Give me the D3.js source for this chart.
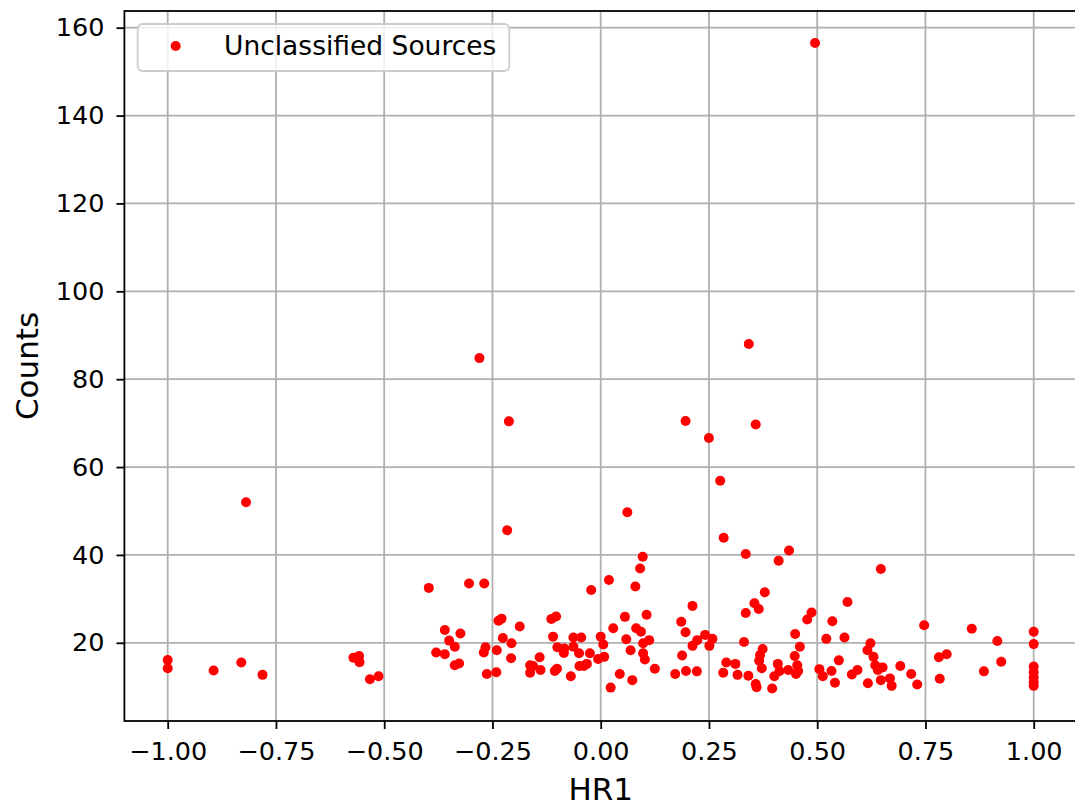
<!DOCTYPE html>
<html>
<head>
<meta charset="utf-8">
<script src="https://cdn.jsdelivr.net/npm/d3@7/dist/d3.min.js"></script>
<style>
  html, body { margin: 0; padding: 0; background: #fff; overflow: hidden; }
  svg { display: block; font-family: "DejaVu Sans", sans-serif; }
</style>
</head>
<body>
<svg id="chart" width="1075" height="806"></svg>
<script>
// Hardness ratio HR1 for each unclassified source
const hr1 = [
  -1.0, -1.0, -0.894, -0.830, -0.781, -0.819,
  -0.571, -0.558, -0.557, -0.533, -0.513,
  -0.397, -0.304, -0.269, -0.360, -0.324, -0.350, -0.337, -0.380, -0.360,
  -0.337, -0.327, -0.266, -0.270, -0.240, -0.263, -0.241, -0.236, -0.229, -0.226,
  -0.206, -0.207, -0.187, -0.114, -0.103, -0.110, -0.100, -0.084, -0.085, -0.063,
  -0.045, -0.063, -0.050, -0.025, 0.000, 0.006, -0.006, 0.008, -0.049, -0.039,
  -0.032, -0.141, -0.163, -0.156, -0.163, -0.139, -0.106, -0.101, -0.069, -0.022,
  0.019, 0.023, 0.044, 0.073, 0.056, 0.029, 0.059, 0.069, 0.082, 0.093,
  0.097, 0.091, 0.080, 0.098, 0.112, 0.098, 0.102, 0.106, 0.125,
  -0.280, -0.212, 0.196, 0.250, 0.358, 0.276, 0.0615, -0.216, 0.284, 0.342, 0.495, 0.647,
  0.172, 0.197, 0.222, 0.188, 0.186, 0.196, 0.212, 0.212, 0.223, 0.241,
  0.258, 0.251, 0.335, 0.411, 0.435, 0.379, 0.355, 0.365, 0.335, 0.331,
  0.290, 0.311, 0.283, 0.316, 0.341, 0.358, 0.360, 0.396, 0.374, 0.368,
  0.366, 0.372, 0.409, 0.413, 0.401, 0.433, 0.449, 0.460, 0.448, 0.454,
  0.456, 0.451, 0.477, 0.487, 0.535, 0.570, 0.521, 0.563, 0.550, 0.505,
  0.513, 0.533, 0.541, 0.580, 0.593,
  0.623, 0.616, 0.630, 0.634, 0.640, 0.651, 0.617, 0.647, 0.668, 0.672,
  0.692, 0.717, 0.731, 0.747, 0.781, 0.799, 0.783, 0.857, 0.916, 0.925,
  0.885, 1.0, 1.0, 1.0, 1.0, 1.0, 1.0, 1.0
];

// Source counts, same order as hr1
const counts = [
  16.1, 14.2, 13.7, 15.5, 12.7, 52.0,
  16.6, 17.0, 15.6, 11.7, 12.4,
  32.5, 33.5, 33.5, 22.9, 22.1, 20.5, 19.1, 17.8, 17.4,
  14.9, 15.3, 19.0, 17.8, 18.3, 12.9, 13.3, 25.0, 25.5, 21.1,
  19.9, 16.5, 23.7, 25.4, 26.0, 21.4, 19.0, 18.7, 17.7, 21.2,
  21.2, 19.1, 17.6, 17.6, 21.4, 19.6, 16.3, 16.8, 14.7, 14.7,
  15.2, 16.7, 14.9, 14.7, 13.2, 13.8, 13.6, 14.1, 12.4, 32.0,
  34.3, 9.8, 12.9, 11.5, 25.9, 23.3, 20.8, 18.3, 23.3, 22.5,
  39.6, 36.9, 32.8, 19.9, 20.6, 17.6, 16.2, 26.4, 14.1,
  84.8, 70.4, 70.5, 66.6, 69.7, 56.9, 49.7, 45.6, 43.9, 88.0, 156.5, 36.8,
  12.9, 13.6, 13.5, 17.1, 24.8, 22.4, 28.4, 19.3, 20.6, 21.8,
  20.9, 19.3, 40.2, 38.7, 41.0, 31.5, 29.0, 27.7, 26.8, 20.2,
  15.5, 15.2, 13.2, 12.7, 12.5, 10.6, 9.9, 9.6, 18.6, 17.2,
  15.9, 14.2, 15.2, 13.6, 12.4, 13.8, 22.0, 19.1, 17.0, 14.9,
  13.6, 12.9, 25.3, 26.9, 24.9, 29.3, 20.9, 21.2, 16.0, 14.0,
  12.4, 13.6, 10.9, 12.8, 13.8,
  19.9, 18.3, 16.8, 14.9, 13.8, 14.4, 10.8, 11.5, 11.9, 10.2,
  14.7, 12.9, 10.5, 24.0, 16.7, 17.4, 11.8, 23.2, 20.4, 15.7,
  13.5, 22.5, 19.7, 14.6, 13.3, 12.1, 11.0, 10.2
];

const xTicks = [-1.0, -0.75, -0.5, -0.25, 0.0, 0.25, 0.5, 0.75, 1.0];
const yTicks = [20, 40, 60, 80, 100, 120, 140, 160];
const seriesName = "Unclassified Sources";
const xLabel = "HR1";
const yLabel = "Counts";

const svg = d3.select("#chart");
const plot = { left: 124.4, right: 1077, top: 11, bottom: 721 };

const x = d3.scaleLinear().domain([-1.1, 1.1]).range([plot.left, plot.right]);
const y = d3.scaleLinear().domain([2.2, 163.8]).range([plot.bottom, plot.top]);

const fmtX = v => d3.format(".2f")(v).replace("-", "\u2212");

// Grid lines
const grid = svg.append("g").attr("stroke", "#b0b0b0").attr("stroke-width", 1.8);
grid.selectAll("line.gx").data(xTicks).enter().append("line")
  .attr("x1", d => x(d)).attr("x2", d => x(d))
  .attr("y1", plot.top).attr("y2", plot.bottom);
grid.selectAll("line.gy").data(yTicks).enter().append("line")
  .attr("x1", plot.left).attr("x2", plot.right)
  .attr("y1", d => y(d)).attr("y2", d => y(d));

// Points
const pts = hr1.map((v, i) => ({ hr: v, c: counts[i] }));
svg.append("g").selectAll("circle").data(pts).enter().append("circle")
  .attr("cx", d => x(d.hr)).attr("cy", d => y(d.c))
  .attr("r", 5).attr("fill", "#ff0000");

// Axes
const xAxis = d3.axisBottom(x).tickValues(xTicks).tickFormat(fmtX)
  .tickSize(8).tickPadding(6);
const yAxis = d3.axisLeft(y).tickValues(yTicks).tickFormat(d3.format("d"))
  .tickSize(8).tickPadding(12);

const gx = svg.append("g").attr("transform", `translate(0,${plot.bottom})`).call(xAxis);
const gy = svg.append("g").attr("transform", `translate(${plot.left},0)`).call(yAxis);
[gx, gy].forEach(g => {
  g.select(".domain").remove();
  g.selectAll(".tick line").attr("stroke", "#000").attr("stroke-width", 1.8);
  g.selectAll(".tick text").attr("fill", "#000")
    .style("font-family", "DejaVu Sans").style("font-size", "25.5px");
});
gx.selectAll(".tick text").attr("y", 39).attr("dy", 0);

// Spines
svg.append("rect")
  .attr("x", plot.left).attr("y", plot.top)
  .attr("width", plot.right - plot.left).attr("height", plot.bottom - plot.top)
  .attr("fill", "none").attr("stroke", "#000").attr("stroke-width", 1.8);

// Axis labels
svg.append("text")
  .attr("x", (plot.left + plot.right) / 2).attr("y", 800)
  .attr("text-anchor", "middle")
  .style("font-size", "31px").text(xLabel);
svg.append("text")
  .attr("transform", `translate(38,${(plot.top + plot.bottom) / 2}) rotate(-90)`)
  .attr("text-anchor", "middle")
  .style("font-size", "31px").text(yLabel);

// Legend
const lg = svg.append("g");
lg.append("rect")
  .attr("x", 137.7).attr("y", 24).attr("width", 371.6).attr("height", 47)
  .attr("rx", 5).attr("ry", 5)
  .attr("fill", "#ffffff").attr("fill-opacity", 0.8)
  .attr("stroke", "#cccccc").attr("stroke-width", 1.8);
lg.append("circle").attr("cx", 175.7).attr("cy", 46).attr("r", 5).attr("fill", "#ff0000");
lg.append("text").attr("x", 224).attr("y", 55)
  .style("font-size", "26.5px").text(seriesName);
</script>
</body>
</html>
